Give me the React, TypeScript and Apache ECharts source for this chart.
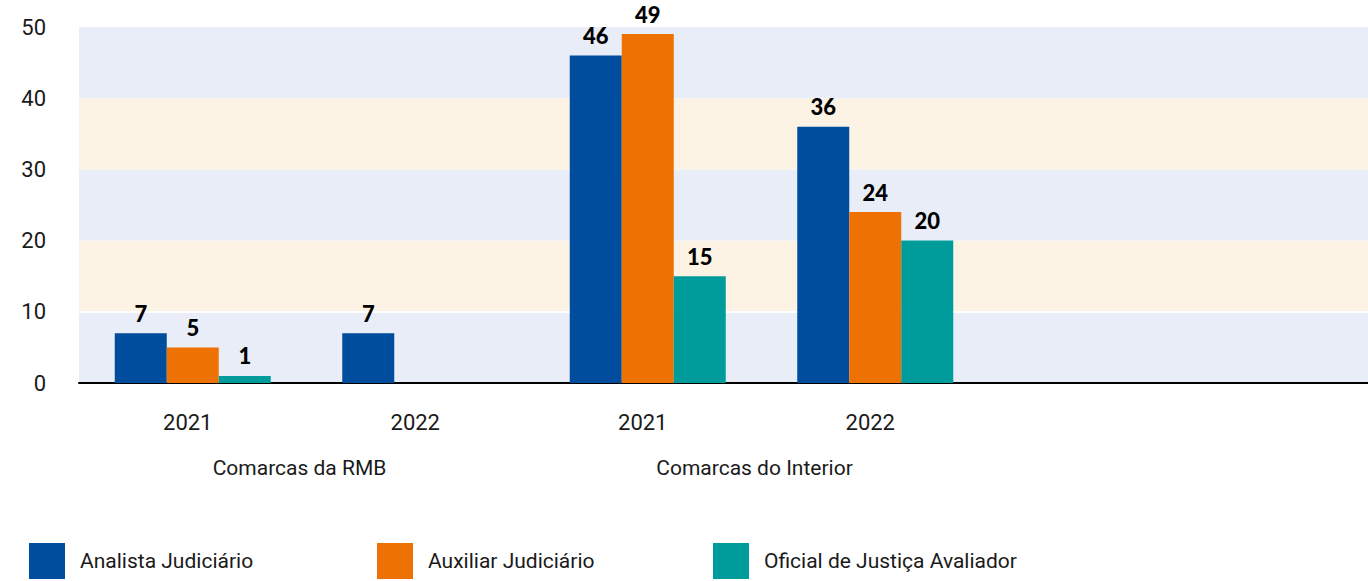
import React, { useEffect, useRef } from "react";
import * as echarts from "echarts";

const years = ["2021", "2022", "2021", "2022", "", ""];
const groups = ["Comarcas da RMB", "Comarcas do Interior", ""];
const analista = [7, 7, 46, 36, null, null];
const auxiliar = [5, null, 49, 24, null, null];
const oficial = [1, null, 15, 20, null, null];
const seriesNames = ["Analista Judiciário", "Auxiliar Judiciário", "Oficial de Justiça Avaliador"];
const colors = ["#004c9d", "#ee7203", "#009b9b"];
const yTicks = [0, 10, 20, 30, 40, 50];

const FONT = "Roboto";

export default function App() {
  const ref = useRef<HTMLDivElement>(null);
  useEffect(() => {
    if (!ref.current) return;
    const chart = echarts.init(ref.current, null, { renderer: "svg" });
    const label = {
      show: true,
      position: "top",
      distance: 9,
      color: "#000",
      fontFamily: "Lato",
      fontWeight: 900,
      fontSize: 22,
      lineHeight: 22,
    };
    const legendBase = {
      top: 538,
      itemWidth: 36,
      itemHeight: 36,
      icon: "rect",
      textStyle: { fontFamily: FONT, fontSize: 21, color: "#1a1a1a", padding: [0, 0, 0, 10] },
    };
    chart.setOption({
      animation: false,
      grid: {
        left: 79,
        top: 27,
        width: 1365,
        height: 356,
        containLabel: false,
        outerBoundsMode: "none",
      },
      legend: [
        { ...legendBase, left: 24, data: [seriesNames[0]] },
        { ...legendBase, left: 372, data: [seriesNames[1]] },
        { ...legendBase, left: 708, data: [seriesNames[2]] },
      ],
      xAxis: [
        {
          type: "category",
          data: years,
          position: "bottom",
          axisLine: { show: true, lineStyle: { color: "#000", width: 2 } },
          axisTick: { show: false },
          axisLabel: { margin: 28, fontFamily: FONT, fontSize: 22, color: "#1a1a1a", padding: [0, 10, 0, 0] },
        },
        {
          type: "category",
          data: groups,
          position: "bottom",
          axisLine: { show: false },
          axisTick: { show: false },
          axisLabel: { margin: 74, fontFamily: FONT, fontSize: 21, color: "#1a1a1a", padding: [0, 14, 0, 0] },
        },
      ],
      yAxis: {
        type: "value",
        min: yTicks[0],
        max: yTicks[yTicks.length - 1],
        interval: 10,
        axisLine: { show: false },
        axisTick: { show: false },
        axisLabel: { margin: 33, fontFamily: FONT, fontSize: 22, color: "#1a1a1a" },
        splitLine: {
          show: true,
          lineStyle: { color: ["transparent", "#ffffff", "transparent", "transparent", "transparent", "transparent"], width: 2 },
        },
        splitArea: { show: true, areaStyle: { color: ["#e8edf8", "#fdf3e4"] } },
      },
      series: [
        { name: seriesNames[0], type: "bar", data: analista, barWidth: 52, barGap: "0%", itemStyle: { color: colors[0] }, label },
        { name: seriesNames[1], type: "bar", data: auxiliar, barWidth: 52, barGap: "0%", itemStyle: { color: colors[1] }, label },
        { name: seriesNames[2], type: "bar", data: oficial, barWidth: 52, barGap: "0%", itemStyle: { color: colors[2] }, label },
      ],
    });
    return () => chart.dispose();
  }, []);
  return (
    <div
      ref={ref}
      style={{ position: "absolute", left: 0, top: 0, width: 1368, height: 581 }}
    />
  );
}
